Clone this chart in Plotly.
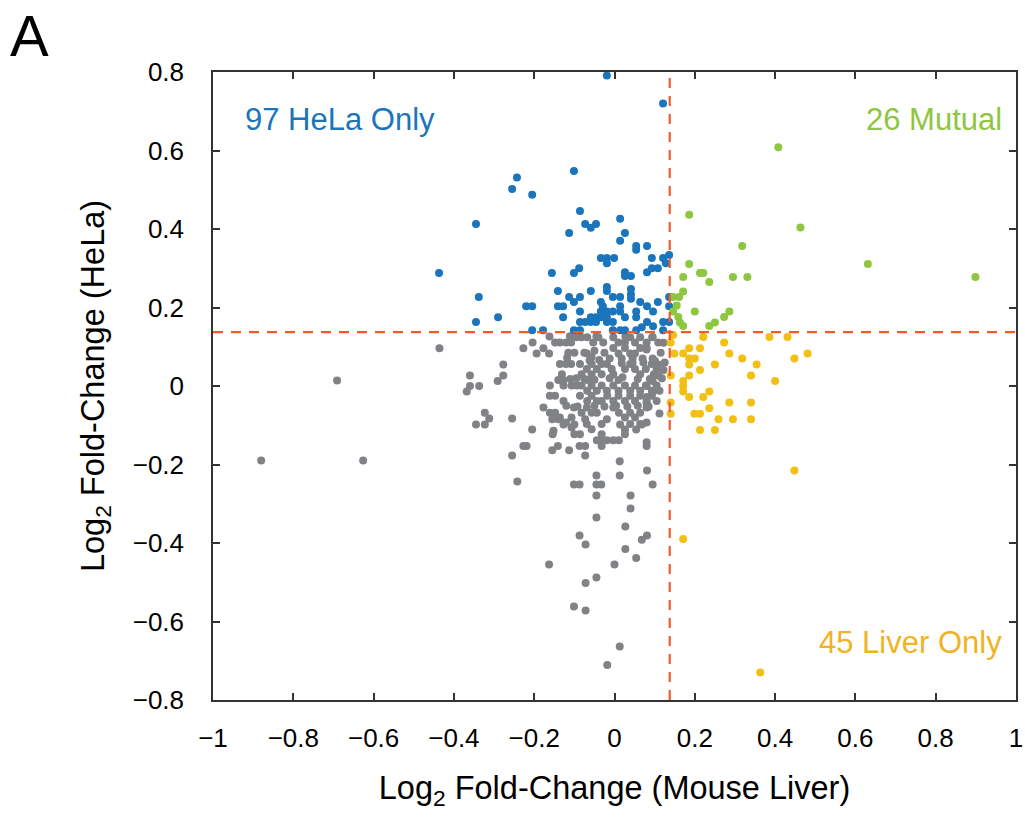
import plotly.graph_objects as go

THRESH = 0.1375  # log2(1.1)

hela_only_x = [-0.019, 0.121, -0.101, -0.243, -0.255, -0.205, -0.345, -0.437, -0.338, -0.290, -0.345, -0.086, -0.073, -0.059, -0.046, -0.113, 0.014, 0.026, 0.014, 0.054, 0.054, 0.081, -0.034, -0.019, -0.001, -0.019, 0.136, 0.093, 0.121, 0.128, 0.108, 0.093, 0.081, -0.156, -0.101, -0.088, 0.026, 0.026, 0.041, -0.141, -0.113, -0.101, -0.086, -0.059, -0.019, -0.019, -0.034, -0.004, 0.014, 0.041, 0.041, 0.041, 0.136, 0.108, -0.220, -0.205, -0.141, -0.128, -0.128, -0.086, -0.034, -0.019, -0.059, -0.046, -0.034, -0.019, -0.086, -0.073, -0.059, -0.046, 0.014, 0.014, 0.026, 0.054, 0.054, 0.081, 0.096, 0.096, 0.121, 0.136, 0.136, -0.205, -0.178, -0.101, -0.086, -0.004, 0.014, 0.026, 0.054, 0.121, -0.019, -0.004, -0.004, -0.029, 0.064, 0.081, 0.068]
hela_only_y = [0.791, 0.720, 0.548, 0.531, 0.502, 0.487, 0.413, 0.288, 0.227, 0.175, 0.163, 0.446, 0.413, 0.403, 0.413, 0.390, 0.426, 0.390, 0.370, 0.357, 0.347, 0.357, 0.326, 0.326, 0.326, 0.313, 0.334, 0.326, 0.326, 0.313, 0.300, 0.300, 0.290, 0.288, 0.288, 0.300, 0.290, 0.280, 0.280, 0.242, 0.227, 0.214, 0.227, 0.242, 0.252, 0.242, 0.214, 0.227, 0.227, 0.247, 0.234, 0.222, 0.227, 0.214, 0.203, 0.203, 0.203, 0.203, 0.175, 0.190, 0.190, 0.190, 0.175, 0.175, 0.175, 0.175, 0.163, 0.163, 0.163, 0.163, 0.203, 0.190, 0.175, 0.190, 0.175, 0.163, 0.152, 0.190, 0.163, 0.163, 0.203, 0.142, 0.142, 0.142, 0.142, 0.142, 0.142, 0.142, 0.142, 0.142, 0.163, 0.163, 0.190, 0.203, 0.214, 0.203, 0.150]

mutual_x = [0.408, 0.186, 0.463, 0.318, 0.186, 0.631, 0.899, 0.171, 0.213, 0.221, 0.236, 0.295, 0.331, 0.171, 0.146, 0.161, 0.200, 0.146, 0.159, 0.163, 0.171, 0.236, 0.250, 0.273, 0.286, 0.155]
mutual_y = [0.608, 0.436, 0.404, 0.357, 0.311, 0.311, 0.278, 0.278, 0.288, 0.288, 0.265, 0.278, 0.278, 0.241, 0.227, 0.227, 0.190, 0.190, 0.176, 0.162, 0.153, 0.153, 0.162, 0.176, 0.190, 0.205]

liver_only_x = [0.146, 0.221, 0.386, 0.431, 0.140, 0.273, 0.186, 0.213, 0.149, 0.171, 0.286, 0.481, 0.186, 0.200, 0.318, 0.448, 0.186, 0.250, 0.354, 0.213, 0.140, 0.186, 0.340, 0.171, 0.171, 0.171, 0.400, 0.236, 0.186, 0.221, 0.140, 0.286, 0.340, 0.236, 0.140, 0.199, 0.213, 0.259, 0.295, 0.340, 0.213, 0.250, 0.448, 0.171, 0.363]
liver_only_y = [0.130, 0.125, 0.125, 0.125, 0.111, 0.111, 0.096, 0.096, 0.083, 0.083, 0.083, 0.083, 0.070, 0.070, 0.070, 0.070, 0.055, 0.055, 0.055, 0.041, 0.027, 0.027, 0.027, 0.013, 0.000, -0.014, 0.013, -0.014, -0.028, -0.028, -0.042, -0.042, -0.042, -0.057, -0.071, -0.071, -0.071, -0.085, -0.085, -0.085, -0.112, -0.112, -0.215, -0.390, -0.730]

other_x = [
    -0.880, -0.691, -0.626, -0.436, -0.227, -0.194, -0.177, -0.163, -0.277, -0.277, -0.291,
    -0.360, -0.360, -0.368, -0.337, -0.323, -0.312, -0.323, -0.345, -0.255, -0.205, -0.255,
    -0.227, -0.219, -0.242, -0.155, -0.141, -0.113, -0.101, -0.087, -0.073, -0.073, -0.101,
    -0.087, -0.045, -0.045, -0.033, -0.045, 0.013, 0.013, 0.081, 0.095, 0.040, 0.040, -0.045,
    0.080, 0.080, 0.027, -0.087, -0.072, 0.081, 0.068, 0.027, 0.054, -0.163, 0.000, -0.045,
    -0.072, -0.101, -0.072, 0.013, -0.018,
    0.095, 0.122, 0.080, 0.095, 0.109, 0.122, 0.109, 0.095, 0.080, 0.095, 0.080, 0.080, 0.080, 0.068,
    -0.111, -0.045, 0.027,
    -0.204, -0.162, -0.148, -0.136, -0.121, -0.108, -0.094, -0.082, -0.068, -0.053, -0.040, -0.028,
    -0.003, 0.010, 0.026, 0.039, 0.051, 0.064, 0.080, 0.094, 0.109,
    -0.003, 0.010, 0.026, 0.039, 0.051, 0.064, 0.080, -0.057, -0.069,
    -0.136, -0.121, -0.108, -0.131, -0.127, -0.086, -0.069, -0.057, -0.082, -0.068, -0.057, -0.044,
    -0.032, -0.032, -0.019, -0.007, -0.003, 0.010, 0.026, 0.039, 0.051, 0.064, 0.078, 0.093, 0.105, 0.101,
    -0.161, -0.127, -0.107, -0.094, -0.082, -0.068, -0.057, -0.044, -0.032, -0.019, -0.003, 0.010,
    0.026, 0.039, 0.051, 0.064, 0.078, 0.093, 0.105,
    -0.161, -0.148, -0.127, -0.086, -0.068, -0.057, -0.044, -0.032, -0.018, -0.003, 0.010, 0.026,
    0.039, 0.051, 0.064, 0.080, 0.093, 0.105,
    -0.177, -0.161, -0.148, -0.136, -0.121, -0.107, -0.082, -0.069, -0.057, -0.044, -0.003, 0.011,
    0.026, 0.039, 0.051, 0.064, 0.080, 0.039, 0.064, -0.032, -0.069, -0.057, -0.107, -0.152,
    -0.155, -0.140, -0.127, -0.100, -0.073, -0.019, 0.014, 0.026, 0.026, 0.054, -0.154, -0.100,
    -0.086, -0.044, -0.032, -0.032, -0.032, -0.019, -0.003, 0.011,
    -0.115, -0.100, -0.075, -0.050, -0.025, 0.018, 0.045, 0.070, 0.115, 0.125,
    -0.118, -0.095, -0.062, -0.038, -0.012, 0.018, 0.045, 0.072, 0.098, 0.118,
    -0.140, -0.110, -0.075, -0.050, -0.012, 0.020, 0.058, 0.088, 0.112,
    -0.120, -0.092, -0.050, -0.025, 0.004, 0.032, 0.058, 0.085, 0.112,
]
other_y = [
    -0.190, 0.014, -0.190, 0.096, 0.096, 0.083, 0.096, 0.083, 0.055, 0.027, 0.013,
    0.027, 0.000, -0.014, 0.000, -0.068, -0.083, -0.098, -0.098, -0.083, -0.111, -0.177,
    -0.153, -0.153, -0.243, -0.164, -0.153, -0.164, -0.055, -0.153, -0.153, -0.177, -0.251,
    -0.251, -0.228, -0.251, -0.251, -0.279, -0.192, -0.228, -0.215, -0.251, -0.279, -0.312, -0.335,
    -0.143, -0.153, -0.358, -0.381, -0.404, -0.381, -0.392, -0.415, -0.438, -0.455, -0.455, -0.488,
    -0.502, -0.562, -0.572, -0.664, -0.711,
    0.125, 0.110, 0.093, 0.070, 0.055, 0.041, 0.027, 0.013, 0.000, -0.015, -0.028, -0.043, -0.055, -0.098,
    0.127, 0.127, 0.127,
    0.111, 0.126, 0.111, 0.111, 0.111, 0.111, 0.124, 0.124, 0.124, 0.111, 0.124, 0.111,
    0.124, 0.111, 0.111, 0.124, 0.111, 0.124, 0.111, 0.124, 0.111,
    0.097, 0.083, 0.097, 0.083, 0.083, 0.097, 0.097, 0.073, 0.083,
    0.056, 0.056, 0.056, 0.030, 0.015, 0.056, 0.043, 0.056, 0.030, 0.015, 0.030, 0.043,
    0.056, 0.030, 0.056, 0.043, 0.030, 0.015, 0.043, 0.056, 0.043, 0.030, 0.043, 0.056, 0.043, 0.064,
    0.001, 0.001, 0.001, 0.001, 0.001, -0.012, 0.001, -0.012, 0.001, -0.012, 0.001, -0.012,
    0.001, -0.012, 0.001, -0.012, 0.001, -0.012, 0.001,
    -0.025, -0.025, -0.038, -0.025, -0.038, -0.025, -0.038, -0.038, -0.025, -0.038, -0.025, -0.038,
    -0.025, -0.038, -0.025, -0.038, -0.025, -0.038,
    -0.055, -0.068, -0.068, -0.080, -0.093, -0.080, -0.068, -0.055, -0.068, -0.068, -0.055, -0.068,
    -0.080, -0.068, -0.080, -0.068, -0.093, -0.097, -0.097, -0.097, -0.097, -0.110, -0.106, -0.114,
    -0.085, -0.085, -0.098, -0.098, -0.085, -0.085, -0.098, -0.111, -0.123, -0.111, -0.123, -0.123,
    -0.123, -0.138, -0.123, -0.138, -0.153, -0.138, -0.138, -0.138,
    0.085, 0.085, 0.085, 0.090, 0.085, 0.070, 0.070, 0.070, 0.085, 0.060,
    0.072, 0.020, 0.065, 0.066, 0.070, 0.058, 0.060, 0.060, 0.030, 0.020,
    0.015, 0.018, 0.018, 0.016, 0.020, 0.022, 0.018, 0.018, -0.012,
    -0.050, -0.052, -0.050, -0.052, -0.050, -0.052, -0.050, -0.052, -0.070,
]

x_tick_vals = [-1, -0.8, -0.6, -0.4, -0.2, 0, 0.2, 0.4, 0.6, 0.8, 1]
y_tick_vals = [-0.8, -0.6, -0.4, -0.2, 0, 0.2, 0.4, 0.6, 0.8]

label_hela = "97 HeLa Only"
label_mutual = "26 Mutual"
label_liver = "45 Liver Only"
panel_label = "A"

GRAY = "#808285"
BLUE = "#1a75bc"
GREEN = "#8dc63f"
YELLOW = "#f2c014"
ORANGE = "#f0b323"
RED = "#f15a29"
FONT = "Arial, Liberation Sans, sans-serif"


def fmt(v):
    return ("\u2212" if v < 0 else "") + f"{abs(v):g}"


fig = go.Figure()
mk = dict(size=8, line=dict(width=0))
fig.add_trace(go.Scatter(x=other_x, y=other_y, mode="markers", marker=dict(color=GRAY, **mk), showlegend=False))
fig.add_trace(go.Scatter(x=hela_only_x, y=hela_only_y, mode="markers", marker=dict(color=BLUE, **mk), showlegend=False))
fig.add_trace(go.Scatter(x=mutual_x, y=mutual_y, mode="markers", marker=dict(color=GREEN, **mk), showlegend=False))
fig.add_trace(go.Scatter(x=liver_only_x, y=liver_only_y, mode="markers", marker=dict(color=YELLOW, **mk), showlegend=False))

dash = dict(color=RED, width=2.2, dash="10px,8px")
fig.add_shape(type="line", xref="x", yref="paper", x0=THRESH, x1=THRESH, y0=0, y1=1, line=dash, layer="above")
fig.add_shape(type="line", xref="paper", yref="y", x0=0, x1=1, y0=THRESH, y1=THRESH, line=dash, layer="above")

fig.add_annotation(x=0.037, y=0.925, xref="paper", yref="paper", text=label_hela, showarrow=False,
                   xanchor="left", yanchor="middle", font=dict(color=BLUE, size=31, family=FONT))
fig.add_annotation(x=0.985, y=0.925, xref="paper", yref="paper", text=label_mutual, showarrow=False,
                   xanchor="right", yanchor="middle", font=dict(color=GREEN, size=31, family=FONT))
fig.add_annotation(x=0.985, y=0.091, xref="paper", yref="paper", text=label_liver, showarrow=False,
                   xanchor="right", yanchor="middle", font=dict(color=ORANGE, size=31, family=FONT))
fig.add_annotation(x=-205 / 803.5, y=1 + 36 / 627, xref="paper", yref="paper", text=panel_label, showarrow=False,
                   xanchor="left", yanchor="middle", font=dict(color="black", size=58, family=FONT))

axis_common = dict(showgrid=False, zeroline=False, showline=True, linecolor="#333333", linewidth=1.5,
                   mirror="ticks", ticks="inside", ticklen=7, tickwidth=1.5, tickcolor="#333333",
                   tickfont=dict(size=26, color="black", family=FONT))
fig.update_xaxes(range=[-1, 1], tickvals=x_tick_vals, ticktext=[fmt(v) for v in x_tick_vals],
                 ticklabelstandoff=14,
                 title=dict(text="Log<sub>2</sub> Fold-Change (Mouse Liver)", font=dict(size=32.5, color="black", family=FONT), standoff=24),
                 **axis_common)
fig.update_yaxes(range=[-0.8, 0.8], tickvals=y_tick_vals, ticktext=[fmt(v) for v in y_tick_vals],
                 ticklabelstandoff=22,
                 title=dict(text="Log<sub>2</sub> Fold-Change (HeLa)", font=dict(size=32.5, color="black", family=FONT), standoff=18),
                 **axis_common)

fig.update_layout(width=1025, height=820, margin=dict(l=213, r=9, t=72, b=120, autoexpand=False),
                  plot_bgcolor="white", paper_bgcolor="white", font=dict(family=FONT))
fig.write_html("out.html")
